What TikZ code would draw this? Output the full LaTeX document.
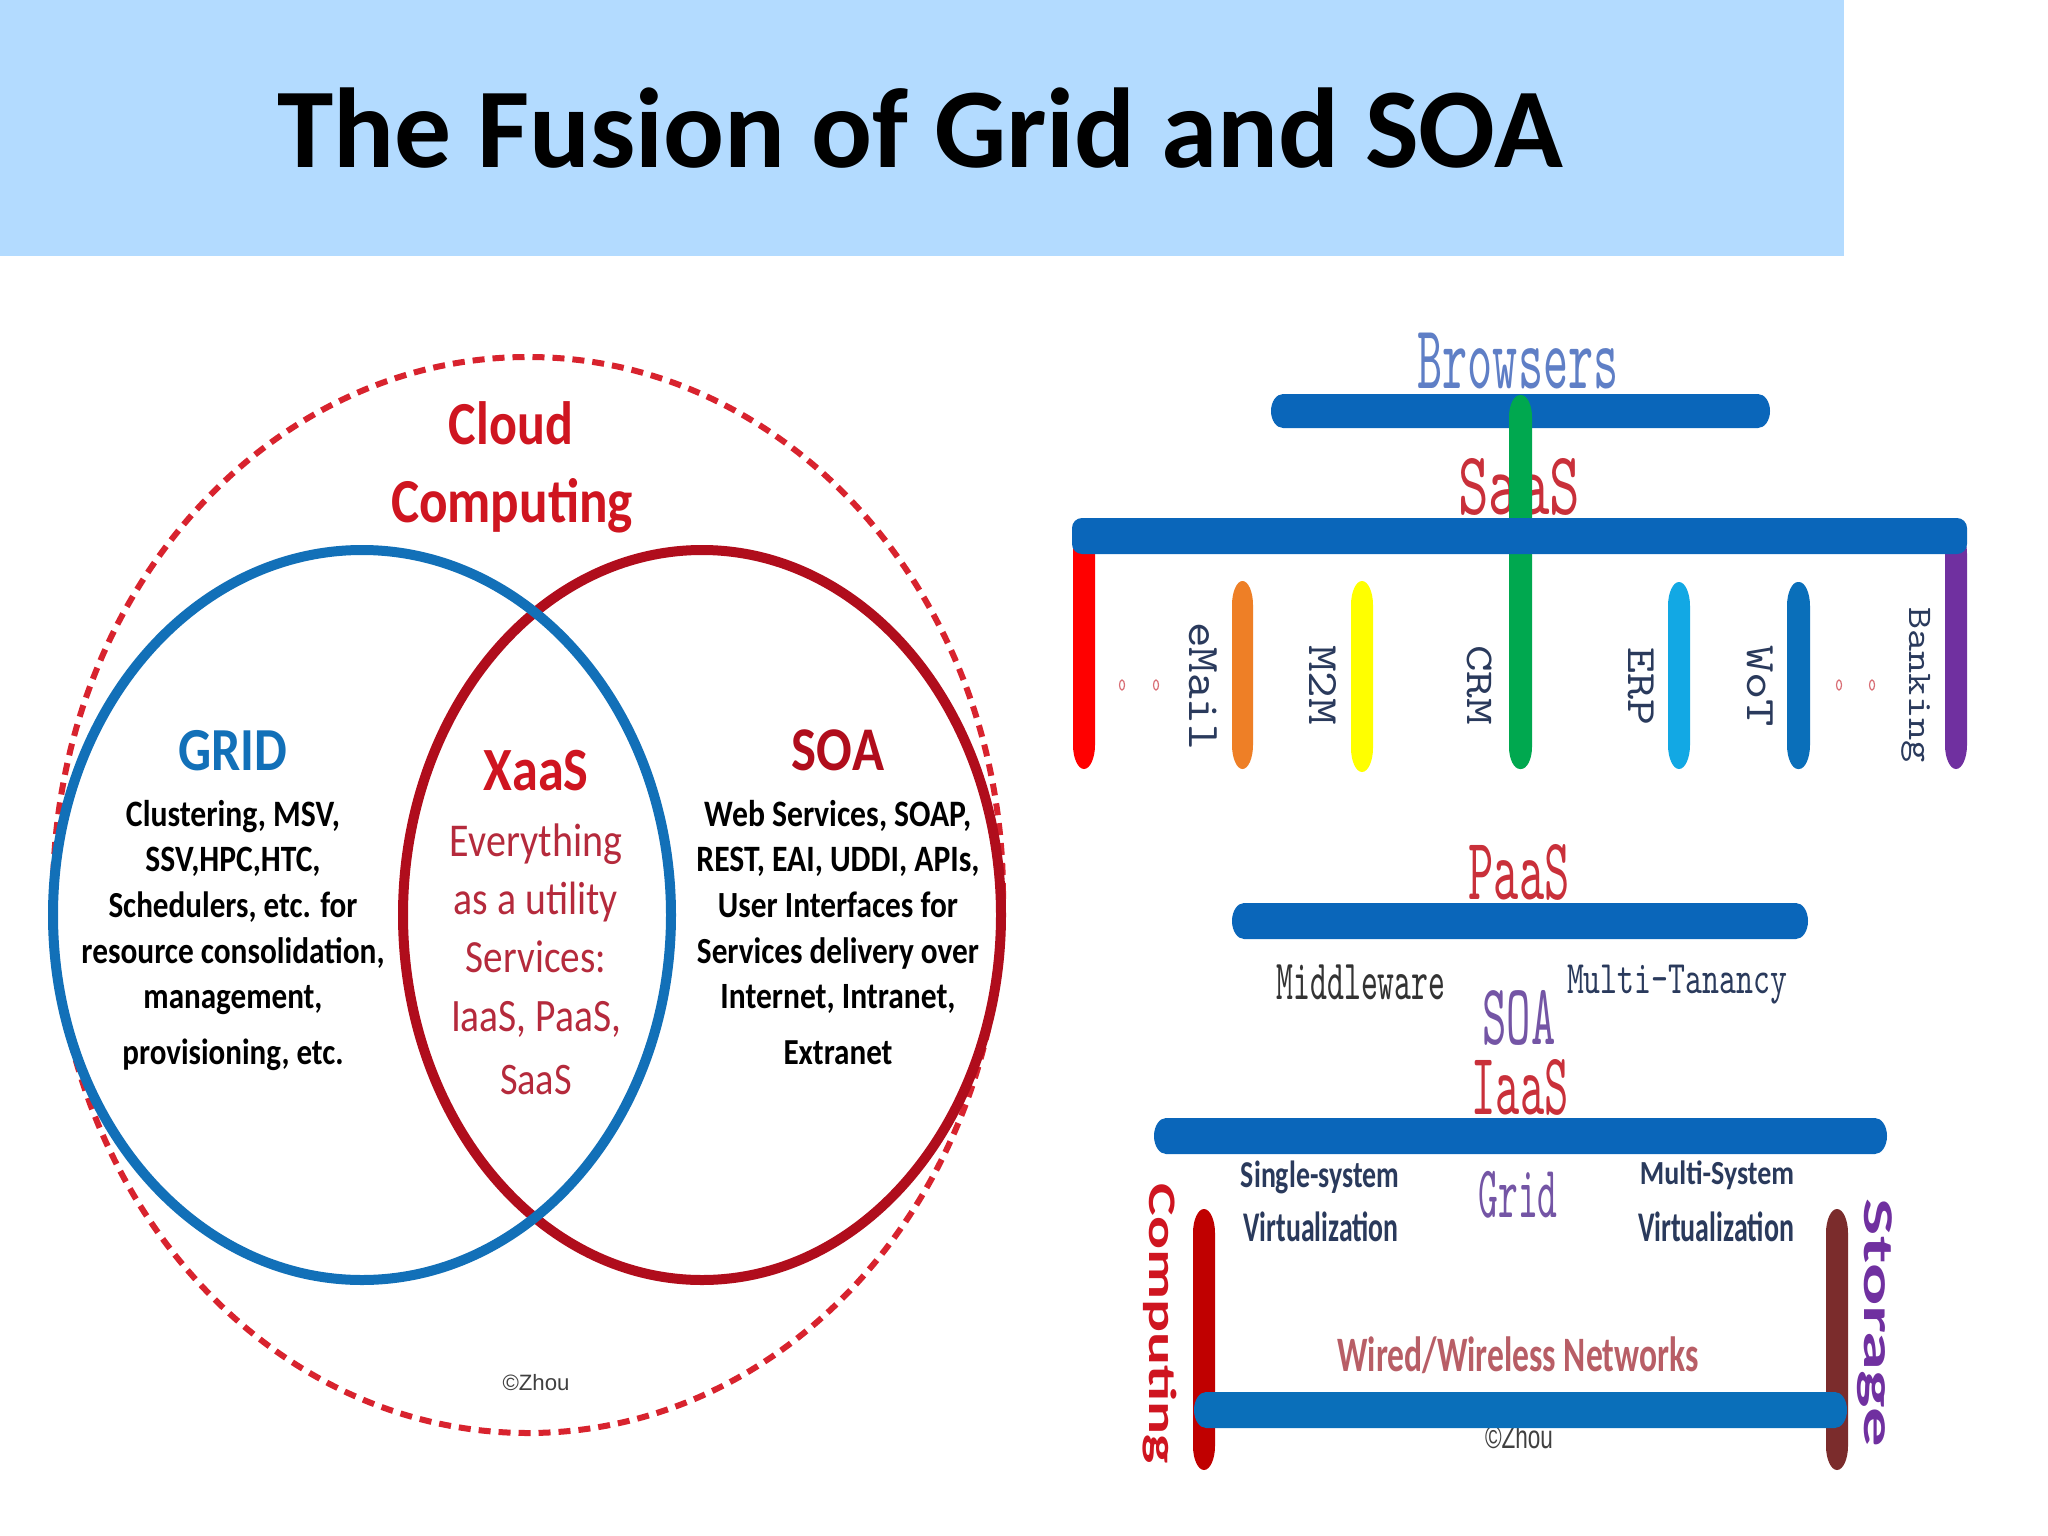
\documentclass[tikz,border=0pt]{standalone}
\usepackage{graphicx}
\usepackage{fontspec}
\setmainfont{Carlito}
\newfontfamily\calb[FakeStretch=0.85]{Carlito}
\newfontfamily\arl{Liberation Sans}
\definecolor{band}{HTML}{B3DBFF}
\definecolor{gridblue}{HTML}{1270B8}
\definecolor{soared}{HTML}{B00D1C}
\definecolor{dashred}{HTML}{D8232E}
\definecolor{cloudred}{HTML}{CF1520}
\definecolor{xred}{HTML}{B52A3C}
\definecolor{barblue}{HTML}{0A66BA}
\definecolor{serifred}{HTML}{C9303A}
\definecolor{browser}{HTML}{5F7FC6}
\definecolor{purp}{HTML}{7455A5}
\definecolor{navy}{HTML}{2A3A5C}
\definecolor{wired}{HTML}{B85E66}
\definecolor{vgreen}{HTML}{00A84F}
\definecolor{vorange}{HTML}{EE7F26}
\definecolor{vyellow}{HTML}{FFFF00}
\definecolor{vcyan}{HTML}{12A8E4}
\definecolor{vblue}{HTML}{0A6FBA}
\definecolor{vpurple}{HTML}{7030A0}
\definecolor{vdred}{HTML}{C00000}
\definecolor{vbrown}{HTML}{7B2C2C}
% centred text of given width, keeping proportions, on a baseline
\newcommand\lw[6]{\node[inner sep=0pt,anchor=base,text=#5] (#1) at (#2,#3) {\resizebox{#4pt}{!}{#6}};}
% centred text stretched to width and total height
\newcommand\lb[7]{\node[inner sep=0pt,anchor=center,text=#6] (#1) at (#2,#3) {\resizebox*{#4pt}{#5pt}{#7}};}
% same, rotated clockwise
\newcommand\lr[7]{\node[inner sep=0pt,anchor=center,rotate=-90,text=#6] (#1) at (#2,#3) {\resizebox*{#4pt}{#5pt}{#7}};}
% capsule: colour, x1,y1,x2,y2, rx, ry
\newcommand\capsule[7]{\fill[#1] ({#2+#6},#3) -- ({#4-#6},#3)
 .. controls ({#4-.45*#6},#3) and (#4,{#3+.45*#7}) .. (#4,{#3+#7})
 -- (#4,{#5-#7}) .. controls (#4,{#5-.45*#7}) and ({#4-.45*#6},#5) .. ({#4-#6},#5)
 -- ({#2+#6},#5) .. controls ({#2+.45*#6},#5) and (#2,{#5-.45*#7}) .. (#2,{#5-#7})
 -- (#2,{#3+#7}) .. controls (#2,{#3+.45*#7}) and ({#2+.45*#6},#3) .. ({#2+#6},#3) -- cycle;}
\tikzset{dotring/.style={draw=serifred!70,line width=1.2pt}}
\begin{document}
\begin{tikzpicture}[x=1pt,y=-1pt]
\useasboundingbox (0,0) rectangle (2048,1536);
\fill[white] (0,0) rectangle (2048,1536);
\fill[band] (0,0) rectangle (1844,256);
\lw{title}{920}{167}{1285}{black}{\bfseries The Fusion of Grid and SOA}
% Venn
\draw[dashred,line width=6pt,dash pattern=on 12pt off 8pt] (528,895) ellipse [x radius=475pt,y radius=538pt];
\draw[soared,line width=10pt] (702,915) ellipse [x radius=299pt,y radius=365pt];
\draw[gridblue,line width=10pt] (362,915) ellipse [x radius=309pt,y radius=365pt];
\lw{cloud}{511}{444}{124}{cloudred}{\calb\bfseries Cloud}
\lw{computing}{512}{522}{242}{cloudred}{\calb\bfseries Computing}
\lw{gridh}{233}{770}{109}{gridblue}{\calb\bfseries GRID}
\lw{soah}{838}{770}{92}{soared}{\calb\bfseries SOA}
\lw{xaas}{536}{790}{105}{cloudred}{\calb\bfseries XaaS}
\lw{g1}{233}{826}{214}{black}{\calb\bfseries Clustering, MSV,}
\lw{g2}{233}{871}{175}{black}{\calb\bfseries SSV,HPC,HTC,}
\lw{g3}{233}{917}{249}{black}{\calb\bfseries Schedulers, etc. for}
\lw{g4}{233}{963}{303}{black}{\calb\bfseries resource consolidation,}
\lw{g5}{233}{1008}{179}{black}{\calb\bfseries management,}
\lw{g6}{233}{1064}{221}{black}{\calb\bfseries provisioning, etc.}
\lw{s1}{838}{826}{267}{black}{\calb\bfseries Web Services, SOAP,}
\lw{s2}{838}{871}{283}{black}{\calb\bfseries REST, EAI, UDDI, APIs,}
\lw{s3}{838}{917}{240}{black}{\calb\bfseries User Interfaces for}
\lw{s4}{838}{963}{282}{black}{\calb\bfseries Services delivery over}
\lw{s5}{838}{1008}{235}{black}{\calb\bfseries Internet, Intranet,}
\lw{s6}{838}{1064}{109}{black}{\calb\bfseries Extranet}
\lw{x1}{536}{856}{172}{xred}{\calb Everything}
\lw{x2}{536}{914}{164}{xred}{\calb as a utility}
\lw{x3}{536}{972}{140}{xred}{\calb Services:}
\lw{x4}{536}{1031}{170}{xred}{\calb IaaS, PaaS,}
\lw{x5}{536}{1094}{72}{xred}{\calb SaaS}
\lw{zl}{536}{1390}{67}{black!75}{\arl ©Zhou}
% Right: SaaS
\lb{browsers}{1518}{361}{201}{56}{browser}{\ttfamily Browsers}
\capsule{barblue}{1271}{394}{1770}{428}{12}{17}
\lb{saas}{1519}{487}{122}{57}{serifred}{\ttfamily SaaS}
\capsule{red}{1073}{530}{1095}{769}{11}{24}
\capsule{vpurple}{1945}{530}{1967}{769}{11}{24}
\capsule{vgreen}{1509}{395}{1532}{769}{11}{22}
\capsule{barblue}{1072}{518}{1967}{554}{10}{10}
\capsule{vorange}{1232}{581}{1253}{769}{10.5}{24}
\capsule{vyellow}{1351}{581}{1373}{772}{11}{24}
\capsule{vcyan}{1668}{582}{1690}{769}{11}{24}
\capsule{vblue}{1787}{582}{1810}{769}{11}{24}
\lr{email}{1203}{686}{128}{28}{navy}{\ttfamily eMail}
\lr{mm}{1323}{685}{80}{27}{navy}{\ttfamily M2M}
\lr{crm}{1480}{685}{80}{25}{navy}{\ttfamily CRM}
\lr{erp}{1641}{686}{78}{26}{navy}{\ttfamily ERP}
\lr{wot}{1760}{686}{82}{26}{navy}{\ttfamily WoT}
\lr{banking}{1916}{685}{155}{29}{navy}{\ttfamily Banking}
\draw[dotring] (1122,685) ellipse [x radius=2.5pt,y radius=5pt];
\draw[dotring] (1156,685) ellipse [x radius=2.5pt,y radius=5pt];
\draw[dotring] (1839,685) ellipse [x radius=2.5pt,y radius=5pt];
\draw[dotring] (1872,685) ellipse [x radius=2.5pt,y radius=5pt];
% Right: PaaS
\lb{paas}{1519}{872}{101}{56}{serifred}{\ttfamily PaaS}
\capsule{barblue}{1232}{903}{1808}{939}{12}{18}
\lb{mw}{1361}{982}{169}{35}{black!80}{\ttfamily Middleware}
\lb{mt}{1677}{985}{220}{39}{navy}{\ttfamily Multi-Tanancy}
\lb{soaright}{1519}{1018}{73}{55}{purp}{\ttfamily SOA}
\lb{iaas}{1520}{1087}{97}{56}{serifred}{\ttfamily IaaS}
\capsule{barblue}{1154}{1118}{1887}{1154}{12}{18}
% Right: IaaS
\lb{single}{1320}{1177}{158}{33}{navy}{\calb\bfseries Single-system}
\lb{v1}{1321}{1227}{155}{30}{navy}{\calb\bfseries Virtualization}
\lb{multi}{1717}{1175}{154}{29}{navy}{\calb\bfseries Multi-System}
\lb{v2}{1716}{1227}{156}{30}{navy}{\calb\bfseries Virtualization}
\lb{gridr}{1518}{1195}{79}{47}{purp}{\ttfamily Grid}
\capsule{vdred}{1193}{1209}{1215}{1470}{11}{24}
\capsule{vbrown}{1826}{1209}{1848}{1470}{11}{24}
\lr{comp}{1160}{1324}{280}{34}{cloudred}{\calb\bfseries Computing}
\lr{stor}{1875}{1323}{248}{35}{vpurple}{\calb\bfseries Storage}
\lb{wiredn}{1518}{1355}{361}{37}{wired}{\calb\bfseries Wired/Wireless Networks}
\lb{zr}{1519}{1437}{68}{24}{black!75}{\arl ©Zhou}
\capsule{vblue}{1194}{1392}{1847}{1428}{12}{18}
\end{tikzpicture}
\end{document}
